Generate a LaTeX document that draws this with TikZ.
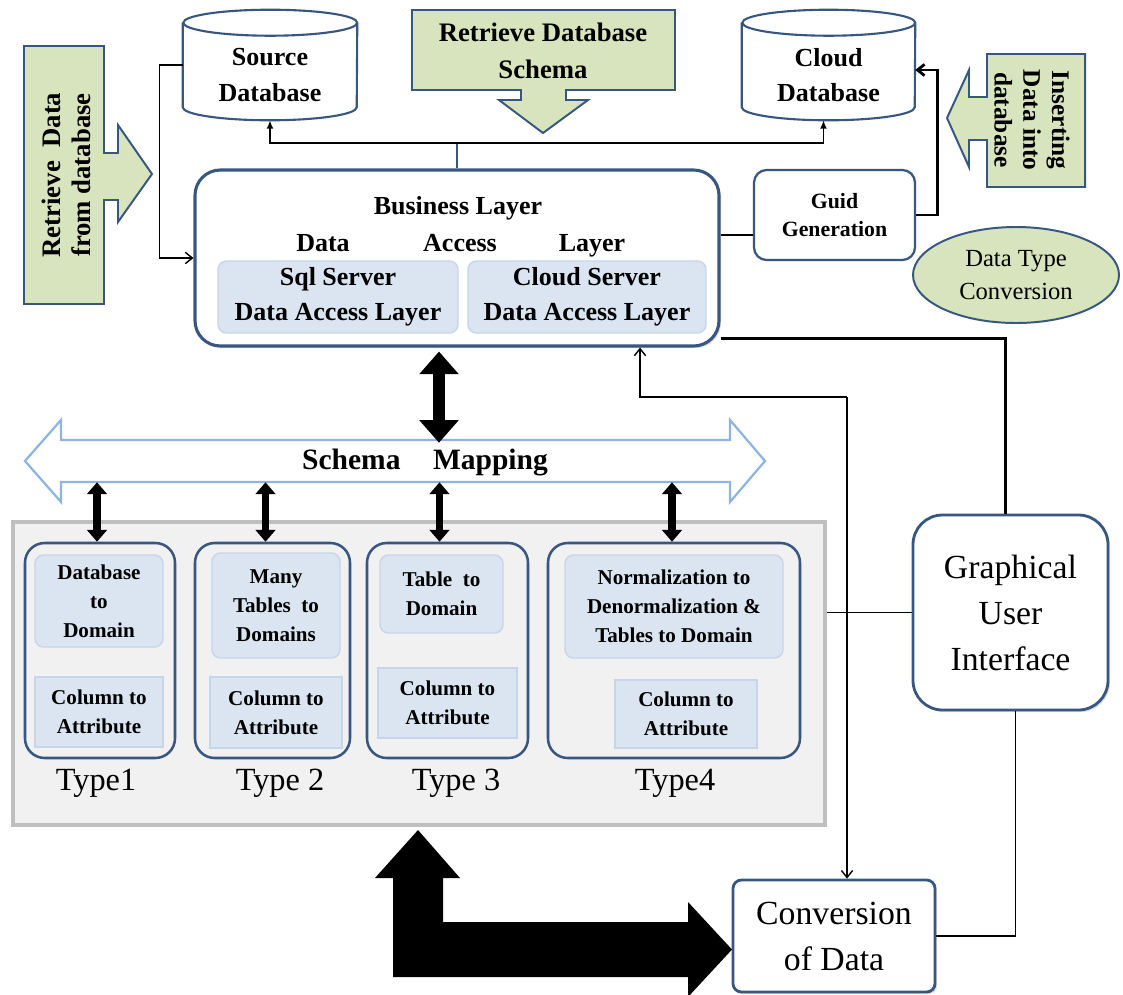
\documentclass[tikz,border=0pt]{standalone}
\usepackage{fontspec}
\setmainfont{Liberation Serif}
\usetikzlibrary{arrows.meta,positioning,shapes.geometric,shadows}
\newcommand{\pxu}{0.025cm}
\definecolor{boxblue}{RGB}{56,87,128}
\definecolor{calloutgreen}{RGB}{215,228,189}
\definecolor{innerblue}{RGB}{219,229,241}
\definecolor{innerrim}{RGB}{198,213,233}
\definecolor{groupgrey}{RGB}{241,241,241}
\definecolor{grouprim}{RGB}{191,191,191}
\definecolor{mapblue}{RGB}{142,180,227}
\tikzset{
  bigbold/.style={font=\bfseries\fontsize{18.5}{25}\selectfont,align=center,inner sep=0pt},
  smallbold/.style={font=\bfseries\fontsize{15}{20.5}\selectfont,align=center,inner sep=0pt},
  callfont/.style={font=\bfseries\fontsize{19}{21.5}\selectfont,align=center,inner sep=0pt},
  schemafont/.style={font=\bfseries\fontsize{19}{26}\selectfont,align=center,inner sep=0pt},
  insfont/.style={font=\bfseries\fontsize{18}{20.5}\selectfont,align=center,inner sep=0pt},
  plainbig/.style={font=\fontsize{24}{32.7}\selectfont,align=center,inner sep=0pt},
  calloutshape/.style={draw=boxblue,fill=calloutgreen,line width=1.4pt},
  dbline/.style={draw=boxblue,fill=white,line width=1.5pt},
  bizbox/.style={draw=boxblue,fill=white,line width=2.2pt,rounded corners=18pt,
    drop shadow={opacity=0.25,shadow xshift=1.5pt,shadow yshift=-1.5pt}},
  innerbox/.style={draw=innerrim,fill=innerblue,line width=1pt,rounded corners=6pt},
  innerflat/.style={draw=innerrim,fill=innerblue,line width=1.5pt},
  guidbox/.style={draw=boxblue,fill=white,line width=1.6pt,rounded corners=9pt,
    font=\bfseries\fontsize{15.5}{20}\selectfont,align=center,inner sep=0pt},
  groupbox/.style={draw=grouprim,fill=groupgrey,line width=2.8pt},
  typebox/.style={draw=boxblue,fill=groupgrey,line width=1.8pt,rounded corners=14pt},
  typelabel/.style={font=\fontsize{23}{26}\selectfont,inner sep=0pt},
  mapshape/.style={draw=mapblue,fill=white,line width=1.6pt},
  roundbig/.style={draw=boxblue,fill=white,line width=2pt,plainbig,
    drop shadow={opacity=0.25,shadow xshift=1.5pt,shadow yshift=-1.5pt}},
  bigdarrow/.style={line width=9pt,{Triangle[width=27pt,length=16pt]}-{Triangle[width=27pt,length=16pt]}},
  smalldarrow/.style={line width=5pt,{Triangle[width=14pt,length=8.5pt]}-{Triangle[width=14pt,length=8.5pt]}},
  openarr/.style={line width=1pt,-{Straight Barb[length=5pt,width=8pt]}},
  fillarr/.style={line width=1.4pt,-{Latex[length=6pt,width=5pt]}}
}

\begin{document}
\begin{tikzpicture}[x=0.025cm,y=0.025cm,line join=miter]
  \useasboundingbox (0,0) rectangle (1123,-994);
  %%
  % Shape: retrieve data callout
  \draw[calloutshape] (24,-46) -- (104,-46) -- (104,-153) -- (118,-153) -- (118,-125)
    -- (152,-174) -- (118,-222) -- (118,-200) -- (104,-200) -- (104,-304) -- (24,-304) -- cycle;
  \node[callfont,rotate=90] (retdata) at (66,-175) {Retrieve\ \ Data\\from database};
  % Shape: retrieve schema callout
  \draw[calloutshape] (412,-10) -- (675,-10) -- (675,-90) -- (566,-90) -- (566,-100) -- (588,-100)
    -- (543,-133) -- (499,-100) -- (521,-100) -- (521,-90) -- (412,-90) -- cycle;
  \node[schemafont] (retschema) at (543,-51) {Retrieve Database\\Schema};
  % Shape: inserting callout
  \draw[calloutshape] (987,-54) -- (1085,-54) -- (1085,-187) -- (987,-187) -- (987,-140) -- (969,-140)
    -- (969,-167) -- (947,-118) -- (969,-70) -- (969,-97) -- (987,-97) -- cycle;
  \node[insfont,rotate=-90] (insdata) at (1032,-120) {Inserting\\Data into\\database};

  % Node: srcdb
  \node[minimum width=174*\pxu,minimum height=110*\pxu] (srcdb) at (270,-65) {};
  \path[dbline] ([yshift=-13*\pxu]srcdb.north west) -- ([yshift=13*\pxu]srcdb.south west)
    arc[start angle=180,end angle=360,x radius=87*\pxu,y radius=13*\pxu]
    -- ([yshift=-13*\pxu]srcdb.north east)
    arc[start angle=0,end angle=360,x radius=87*\pxu,y radius=13*\pxu];
  \node[bigbold] (srcdbtxt) at (270,-75) {Source\\Database};
  % Node: clouddb
  \node[minimum width=173*\pxu,minimum height=110*\pxu] (clouddb) at (828.5,-65) {};
  \path[dbline] ([yshift=-13*\pxu]clouddb.north west) -- ([yshift=13*\pxu]clouddb.south west)
    arc[start angle=180,end angle=360,x radius=86.5*\pxu,y radius=13*\pxu]
    -- ([yshift=-13*\pxu]clouddb.north east)
    arc[start angle=0,end angle=360,x radius=86.5*\pxu,y radius=13*\pxu];
  \node[bigbold] (clouddbtxt) at (828.5,-75) {Cloud\\Database};

  % Node: bizlayer
  \node[bizbox,minimum width=524*\pxu,minimum height=176*\pxu] (bizlayer) at (457,-258) {};
  \node[bigbold,anchor=base] (biztitle) at (458,-214) {Business Layer};
  \node[bigbold,anchor=base] (dataword) at (323,-251) {Data};
  \node[bigbold,anchor=base] (accessword) at (460,-251) {Access};
  \node[bigbold,anchor=base] (layerword) at (592,-251) {Layer};
  \node[innerbox,bigbold,minimum width=240*\pxu,minimum height=72*\pxu] (sqldal) at (338,-297) {Sql Server\\Data Access Layer};
  \node[innerbox,bigbold,minimum width=238*\pxu,minimum height=72*\pxu] (clouddal) at (587,-297) {Cloud Server\\Data Access Layer};

  % Node: guid
  \node[guidbox,minimum width=161*\pxu,minimum height=90*\pxu] (guid) at (834.5,-215) {Guid\\Generation};
  % Node: dtconv
  \node[ellipse,draw=boxblue,fill=calloutgreen,line width=1.4pt,minimum width=206*\pxu,minimum height=96*\pxu,
    inner sep=0pt,align=center,font=\fontsize{17.5}{23.5}\selectfont] (dtconv) at (1016,-275) {Data Type\\Conversion};

  % Node: schemamap
  \draw[mapshape] (25,-461) -- (61,-420) -- (61,-440) -- (730,-440) -- (730,-420) -- (765,-461)
    -- (730,-502) -- (730,-482) -- (61,-482) -- (61,-502) -- cycle;
  \node[minimum width=669*\pxu,minimum height=42*\pxu] (schemamap) at (395.5,-461) {};
  \node[font=\bfseries\fontsize{21}{25}\selectfont,inner sep=0pt] (schematxt) at (425,-463) {Schema\hspace{1.1em}Mapping};

  % Node: typegroup
  \node[groupbox,minimum width=812*\pxu,minimum height=303*\pxu] (typegroup) at (419,-673.5) {};
  % Node: type1
  \node[typebox,minimum width=150*\pxu,minimum height=215*\pxu] (type1) at (100,-650.5) {};
  \node[innerbox,smallbold,minimum width=128*\pxu,minimum height=92*\pxu] (t1top) at (99,-601) {Database\\to\\Domain};
  \node[innerflat,smallbold,minimum width=128*\pxu,minimum height=70*\pxu] (t1bot) at (99,-712) {Column to\\Attribute};
  \node[typelabel] (t1lab) at (96,-783) {Type1};
  % Node: type2
  \node[typebox,minimum width=155*\pxu,minimum height=215*\pxu] (type2) at (272.5,-650.5) {};
  \node[innerbox,smallbold,minimum width=128*\pxu,minimum height=105*\pxu] (t2top) at (276,-605.5) {Many\\Tables\ \ to\\Domains};
  \node[innerflat,smallbold,minimum width=132*\pxu,minimum height=71*\pxu] (t2bot) at (276,-712.5) {Column to\\Attribute};
  \node[typelabel] (t2lab) at (280,-783) {Type 2};
  % Node: type3
  \node[typebox,minimum width=161*\pxu,minimum height=215*\pxu] (type3) at (447.5,-650.5) {};
  \node[innerbox,smallbold,minimum width=123*\pxu,minimum height=78*\pxu] (t3top) at (441.5,-594) {Table\ \ to\\Domain};
  \node[innerflat,smallbold,minimum width=139*\pxu,minimum height=70*\pxu] (t3bot) at (447.5,-703) {Column to\\Attribute};
  \node[typelabel] (t3lab) at (456,-783) {Type 3};
  % Node: type4
  \node[typebox,minimum width=252*\pxu,minimum height=215*\pxu] (type4) at (674,-650.5) {};
  \node[innerbox,smallbold,minimum width=218*\pxu,minimum height=103*\pxu] (t4top) at (674,-606.5) {Normalization to\\Denormalization \&\\Tables to Domain};
  \node[innerflat,smallbold,minimum width=142*\pxu,minimum height=68*\pxu] (t4bot) at (686,-714) {Column to\\Attribute};
  \node[typelabel] (t4lab) at (675,-783) {Type4};

  % Node: gui
  \node[roundbig,rounded corners=21pt,minimum width=195*\pxu,minimum height=195*\pxu] (gui) at (1010.5,-612.5) {Graphical\\User\\Interface};
  % Node: convdata
  \node[roundbig,rounded corners=6pt,minimum width=202*\pxu,minimum height=112*\pxu] (convdata) at (834,-936) {Conversion\\of Data};

  % Edge: srcdb -> bizlayer
  \draw[openarr] (srcdb.west) -- ++(-23*\pxu,0) |- (bizlayer.west);
  % Edge: bizlayer -> srcdb, clouddb
  \coordinate (split) at (457,-143);
  \draw[boxblue,line width=1pt] (bizlayer.north) -- (split);
  \draw[fillarr] (split) -| (srcdb.south);
  \draw[fillarr] (split) -| ([xshift=-5*\pxu]clouddb.south);
  % Edge: guid -- bizlayer
  \draw[line width=2pt] ([yshift=-20*\pxu]guid.west) -- ([yshift=-20*\pxu]guid.west -| bizlayer.east);
  % Edge: guid -> clouddb
  \draw[line width=2pt,-{Straight Barb[length=5pt,width=8pt]}] (guid.east) -- ++(21*\pxu,0) |- ([yshift=-5*\pxu]clouddb.east);
  % Edge: bizlayer -- gui
  \draw[line width=1.8pt] ([yshift=9*\pxu]bizlayer.south east) -| ([xshift=-5*\pxu]gui.north);
  % Edge: gui -> bizlayer, convdata
  \coordinate (guijoin) at (847,-397);
  \draw[openarr] (guijoin) -| ([xshift=183*\pxu]bizlayer.south);
  \draw[openarr] (guijoin) -- (guijoin |- convdata.north);
  % Edge: bizlayer <-> schemamap
  \draw[bigdarrow] ([xshift=-18*\pxu,yshift=-4*\pxu]bizlayer.south) -- ([xshift=-18*\pxu,yshift=-3*\pxu]bizlayer.south |- schemamap.north);
  % Edge: schemamap <-> types
  \draw[smalldarrow] ([xshift=-3*\pxu]type1.north) -- ([xshift=-3*\pxu]type1.north |- schemamap.south);
  \draw[smalldarrow] ([xshift=-7*\pxu]type2.north) -- ([xshift=-7*\pxu]type2.north |- schemamap.south);
  \draw[smalldarrow] ([xshift=-8*\pxu]type3.north) -- ([xshift=-8*\pxu]type3.north |- schemamap.south);
  \draw[smalldarrow] ([xshift=-2*\pxu]type4.north) -- ([xshift=-2*\pxu]type4.north |- schemamap.south);
  % Edge: typegroup -- gui
  \draw[line width=1pt] (gui.west) -- (gui.west -| typegroup.east);
  % Edge: gui -- convdata
  \draw[line width=1.4pt] ([xshift=5*\pxu]gui.south) |- (convdata.east);
  % Shape: typegroup <-> convdata
  \fill (418,-830) -- (460,-878) -- (443,-878) -- (443,-922) -- (688,-922) -- (688,-902) -- (732,-949.5)
    -- (688,-997) -- (688,-977) -- (393,-977) -- (393,-878) -- (375,-878) -- cycle;
  %
\end{tikzpicture}
\end{document}
